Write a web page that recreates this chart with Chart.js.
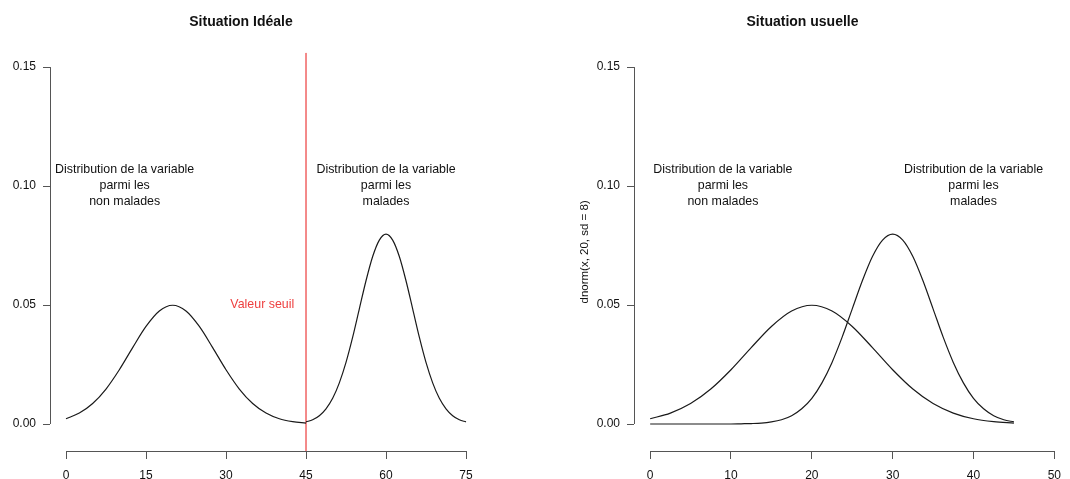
<!DOCTYPE html>
<html>
<head>
<meta charset="utf-8">
<script src="https://cdn.jsdelivr.net/npm/chart.js@4.4.1/dist/chart.umd.min.js"></script>
<style>
    html, body { margin: 0; padding: 0; background: #fff; }
    #wrap { position: relative; width: 1070px; height: 479px; overflow: hidden; }
    .panel { position: absolute; top: 0; }
</style>
</head>
<body>
<div id="wrap">
    <div class="panel" style="left:0"><canvas id="idealChart" width="535" height="479"></canvas></div>
    <div class="panel" style="left:535px"><canvas id="usualChart" width="535" height="479"></canvas></div>
</div>
<script>
// values (density curves)
const healthyX = [0, 2.5, 5, 7.5, 10, 12.5, 15, 17.5, 20, 22.5, 25, 27.5, 30, 32.5, 35, 37.5, 40, 42.5, 45];
const healthyY = [0.0022, 0.0046, 0.0086, 0.0147, 0.0228, 0.0321, 0.0410, 0.0475, 0.0499, 0.0475, 0.0410,
                  0.0321, 0.0228, 0.0147, 0.0086, 0.0046, 0.0022, 0.0010, 0.0004];

// left panel: sick population, well separated
const sickIdealX = [45, 46.25, 47.5, 48.75, 50, 51.25, 52.5, 53.75, 55, 56.25, 57.5, 58.75, 60,
                    61.25, 62.5, 63.75, 65, 66.25, 67.5, 68.75, 70, 71.25, 72.5, 73.75, 75];
const sickIdealY = [0.0009, 0.0018, 0.0035, 0.0064, 0.0108, 0.0173, 0.0259, 0.0365, 0.0484, 0.0602, 0.0704, 0.0773, 0.0798,
                    0.0773, 0.0704, 0.0602, 0.0484, 0.0365, 0.0259, 0.0173, 0.0108, 0.0064, 0.0035, 0.0018, 0.0009];

// right panel: sick population overlapping the healthy one
const sickUsualX = [0, 2.5, 5, 7.5, 10, 11.25, 12.5, 13.75, 15, 16.25, 17.5, 18.75, 20, 21.25, 22.5, 23.75, 25,
                    26.25, 27.5, 28.75, 30, 31.25, 32.5, 33.75, 35, 36.25, 37.5, 38.75, 40, 41.25, 42.5, 43.75, 45];
const sickUsualY = [0, 0, 0, 0, 0.0000, 0.0001, 0.0002, 0.0004, 0.0009, 0.0018, 0.0035, 0.0064, 0.0108, 0.0173, 0.0259,
                    0.0365, 0.0484, 0.0602, 0.0704, 0.0773, 0.0798, 0.0773, 0.0704, 0.0602, 0.0484, 0.0365, 0.0259,
                    0.0173, 0.0108, 0.0064, 0.0035, 0.0018, 0.0009];

const thresholdX = 45;

const idealXTicks = [0, 15, 30, 45, 60, 75];
const usualXTicks = [0, 10, 20, 30, 40, 50];
const yTicks = [0, 0.05, 0.10, 0.15];

const noteLines = ['Distribution de la variable', 'parmi les'];
const idealNotes = [
    { x: 11, y: 0.10, lines: noteLines.concat(['non malades']) },
    { x: 60, y: 0.10, lines: noteLines.concat(['malades']) },
    { x: 36.8, y: 0.05, lines: ['Valeur seuil'], color: '#ee4040' }
];
const usualNotes = [
    { x: 9, y: 0.10, lines: noteLines.concat(['non malades']) },
    { x: 40, y: 0.10, lines: noteLines.concat(['malades']) }
];

const FONT = "'Liberation Sans', Arial, sans-serif";
const AXIS_COLOR = '#555';
const CURVE_COLOR = '#1a1a1a';

function toPoints(xs, ys) {
    return xs.map((x, i) => ({ x: x, y: ys[i] }));
}

function curve(xs, ys) {
    return {
        data: toPoints(xs, ys),
        borderColor: CURVE_COLOR,
        borderWidth: 1.2,
        pointRadius: 0,
        cubicInterpolationMode: 'monotone',
        fill: false
    };
}

// R-like axes: line only from first to last tick, plus text annotations
const baseAxesAndNotes = {
    id: 'baseAxesAndNotes',
    afterDraw(chart, args, opts) {
        const ctx = chart.ctx;
        const xs = chart.scales.x, ys = chart.scales.y;
        const area = chart.chartArea;
        const xt = opts.xTicks;

        ctx.save();
        ctx.strokeStyle = AXIS_COLOR;
        ctx.lineWidth = 1;
        ctx.beginPath();
        const by = Math.round(area.bottom) + 0.5;
        ctx.moveTo(xs.getPixelForValue(xt[0]), by);
        ctx.lineTo(xs.getPixelForValue(xt[xt.length - 1]), by);
        const lx = Math.round(area.left) + 0.5;
        ctx.moveTo(lx, ys.getPixelForValue(yTicks[0]));
        ctx.lineTo(lx, ys.getPixelForValue(yTicks[yTicks.length - 1]));
        ctx.stroke();

        ctx.font = '12.4px ' + FONT;
        ctx.textAlign = 'center';
        ctx.textBaseline = 'middle';
        (opts.notes || []).forEach(n => {
            const px = xs.getPixelForValue(n.x);
            const py = ys.getPixelForValue(n.y);
            const mid = (n.lines.length - 1) / 2;
            ctx.fillStyle = n.color || '#111';
            n.lines.forEach((t, i) => {
                ctx.fillText(t, px, py + (i - mid) * 16);
            });
        });
        ctx.restore();
    }
};

function makeChart(id, cfg) {
    return new Chart(document.getElementById(id), {
        type: 'line',
        data: { datasets: cfg.datasets },
        options: {
            responsive: false,
            animation: false,
            devicePixelRatio: 1,
            layout: { padding: { left: 0, right: cfg.padRight, top: 0, bottom: 0 } },
            plugins: {
                legend: { display: false },
                tooltip: { enabled: false },
                title: {
                    display: true,
                    text: cfg.title,
                    color: '#111',
                    font: { family: FONT, size: 14, weight: 'bold' },
                    padding: { top: 14, bottom: 22 }
                },
                baseAxesAndNotes: { xTicks: cfg.xTicks, notes: cfg.notes }
            },
            scales: {
                x: {
                    type: 'linear',
                    min: cfg.xMin,
                    max: cfg.xMax,
                    border: { display: false },
                    grid: { display: true, drawOnChartArea: false, tickLength: 8, color: AXIS_COLOR },
                    ticks: { color: '#111', font: { family: FONT, size: 12 }, padding: 9, maxRotation: 0 },
                    afterBuildTicks: s => { s.ticks = cfg.xTicks.map(v => ({ value: v })); },
                    afterFit: s => { s.height = 28; }
                },
                y: {
                    type: 'linear',
                    min: -0.01134,
                    max: 0.156,
                    border: { display: false },
                    grid: { display: true, drawOnChartArea: false, tickLength: 7, color: AXIS_COLOR },
                    ticks: {
                        color: '#111',
                        font: { family: FONT, size: 12 },
                        padding: 7,
                        callback: v => v.toFixed(2)
                    },
                    title: cfg.yTitle ? {
                        display: true,
                        text: cfg.yTitle,
                        color: '#111',
                        font: { family: FONT, size: 11.5 },
                        padding: { top: 43, bottom: 0 }
                    } : { display: false },
                    afterBuildTicks: s => { s.ticks = yTicks.map(v => ({ value: v })); },
                    afterFit: s => { s.width = cfg.yWidth; }
                }
            }
        },
        plugins: [baseAxesAndNotes]
    });
}

makeChart('idealChart', {
    title: 'Situation Idéale',
    xMin: -3, xMax: 78, padRight: 53, yWidth: 50,
    xTicks: idealXTicks,
    notes: idealNotes,
    datasets: [
        curve(healthyX, healthyY),
        curve(sickIdealX, sickIdealY),
        {
            data: [{ x: thresholdX, y: 0.156 }, { x: thresholdX, y: -0.01134 }],
            borderColor: '#f27a7a',
            borderWidth: 1,
            pointRadius: 0
        }
    ]
});

makeChart('usualChart', {
    title: 'Situation usuelle',
    xMin: -2, xMax: 51.83, padRight: 0, yWidth: 99,
    xTicks: usualXTicks,
    notes: usualNotes,
    yTitle: 'dnorm(x, 20, sd = 8)',
    datasets: [
        curve(healthyX, healthyY),
        curve(sickUsualX, sickUsualY)
    ]
});
</script>
</body>
</html>
